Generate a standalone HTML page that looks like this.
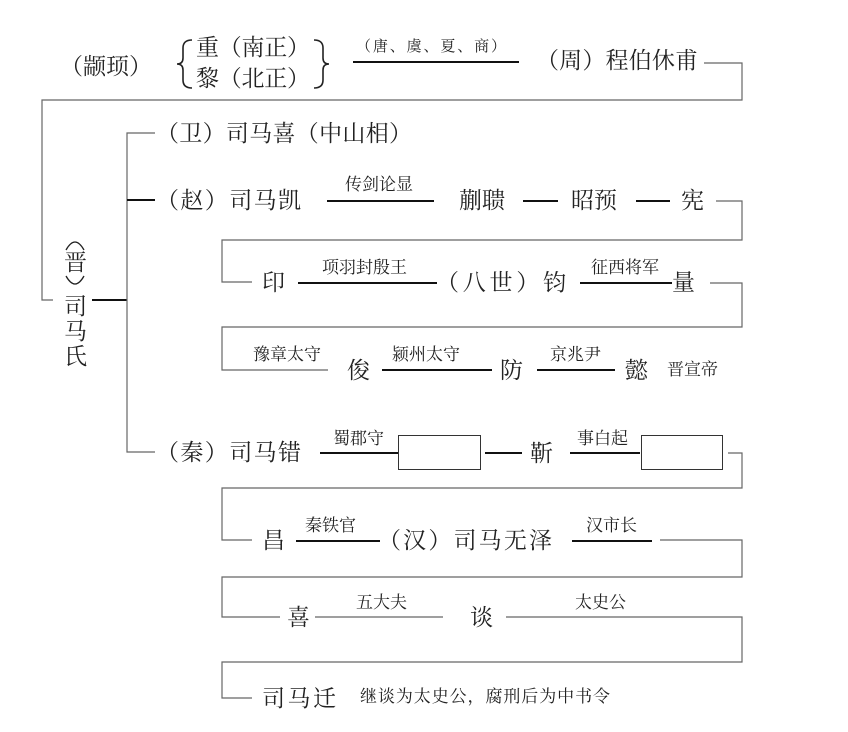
<!DOCTYPE html>
<html><head><meta charset="utf-8"><style>
html,body{margin:0;padding:0;background:#fff;}
svg{display:block;}
text{font-family:"Liberation Serif","Noto Serif CJK SC","Noto Sans CJK SC",serif;fill:#222;}
.m{font-size:23px;}
.s{font-size:17px;}
.g{stroke:#666;stroke-width:1.2;fill:none;}
.b{stroke:#111;stroke-width:2;fill:none;}
</style></head><body>
<svg width="848" height="732" viewBox="0 0 848 732" xmlns="http://www.w3.org/2000/svg">
<!-- top row -->
<text class="m" x="60" y="74">（颛顼）</text>
<path d="M192,40 Q183,40 183,48 L183,58 Q183,64 177,64 Q183,64 183,70 L183,80 Q183,88 192,88" stroke="#222" stroke-width="1.6" fill="none"/>
<text class="m" x="196" y="55" textLength="114" lengthAdjust="spacing">重（南正）</text>
<text class="m" x="196" y="86" textLength="114" lengthAdjust="spacing">黎（北正）</text>
<path d="M314,40 Q323,40 323,48 L323,58 Q323,64 329,64 Q323,64 323,70 L323,80 Q323,88 314,88" stroke="#222" stroke-width="1.6" fill="none"/>
<text class="s" x="356" y="51" font-size="15" style="font-size:15px" textLength="150" lengthAdjust="spacing">（唐、虞、夏、商）</text>
<line class="b" x1="353" y1="62" x2="519" y2="62"/>
<text class="m" x="536" y="68" textLength="162" lengthAdjust="spacing">（周）程伯休甫</text>
<path class="g" d="M704,63 H742 V100 H42 V300 H53"/>
<!-- 晋 司马氏 -->
<path d="M66,250 Q75,234 84,250" stroke="#222" stroke-width="1.3" fill="none"/>
<text class="m" x="64" y="270">晋</text>
<path d="M66,276 Q75,292 84,276" stroke="#222" stroke-width="1.3" fill="none"/>
<text class="m" x="64" y="314">司</text>
<text class="m" x="64" y="339">马</text>
<text class="m" x="64" y="364">氏</text>
<line class="b" x1="92" y1="300" x2="127" y2="300"/>
<path class="g" d="M155,133 H127 V452 H155"/>
<line class="b" x1="127" y1="200" x2="155" y2="200"/>
<!-- 卫 -->
<text class="m" x="156" y="141" textLength="256" lengthAdjust="spacing">（卫）司马喜（中山相）</text>
<!-- 赵 -->
<text class="m" x="156" y="208" textLength="145" lengthAdjust="spacing">（赵）司马凯</text>
<text class="s" x="345" y="190">传剑论显</text>
<line class="b" x1="327" y1="201" x2="434" y2="201"/>
<text class="m" x="459" y="208">蒯聩</text>
<line class="b" x1="523" y1="201" x2="558" y2="201"/>
<text class="m" x="571" y="208">昭预</text>
<line class="b" x1="636" y1="201" x2="670" y2="201"/>
<text class="m" x="681" y="208">宪</text>
<path class="g" d="M716,201 H742 V240 H222 V282 H252"/>
<text class="m" x="262" y="290">印</text>
<text class="s" x="322" y="273">项羽封殷王</text>
<line class="b" x1="298" y1="283" x2="437" y2="283"/>
<text class="m" x="436" y="290" textLength="130" lengthAdjust="spacing">（八世）钧</text>
<text class="s" x="591" y="273">征西将军</text>
<line class="b" x1="580" y1="283" x2="672" y2="283"/>
<text class="m" x="672" y="290">量</text>
<path class="g" d="M710,283 H742 V327 H222 V370 H328"/>
<text class="s" x="253" y="360">豫章太守</text>
<text class="m" x="347" y="378">俊</text>
<text class="s" x="392" y="360">颍州太守</text>
<line class="b" x1="382" y1="370" x2="492" y2="370"/>
<text class="m" x="500" y="378">防</text>
<text class="s" x="550" y="360">京兆尹</text>
<line class="b" x1="537" y1="370" x2="615" y2="370"/>
<text class="m" x="625" y="378">懿</text>
<text class="s" x="667" y="375">晋宣帝</text>
<!-- 秦 -->
<text class="m" x="156" y="460" textLength="145" lengthAdjust="spacing">（秦）司马错</text>
<text class="s" x="333" y="444">蜀郡守</text>
<line class="b" x1="320" y1="453" x2="398" y2="453"/>
<rect x="398.5" y="435.5" width="82" height="34" fill="none" stroke="#333" stroke-width="1"/>
<line class="b" x1="485" y1="453" x2="522" y2="453"/>
<text class="m" x="530" y="461">靳</text>
<text class="s" x="577" y="444">事白起</text>
<line class="b" x1="570" y1="453" x2="640" y2="453"/>
<rect x="641.5" y="435.5" width="81" height="34" fill="none" stroke="#333" stroke-width="1"/>
<path class="g" d="M728,453 H742 V488 H222 V540 H252"/>
<text class="m" x="262" y="548">昌</text>
<text class="s" x="305" y="531">秦铁官</text>
<line class="b" x1="296" y1="541" x2="380" y2="541"/>
<text class="m" x="378" y="548" textLength="174" lengthAdjust="spacing">（汉）司马无泽</text>
<text class="s" x="586" y="531">汉市长</text>
<line class="b" x1="572" y1="541" x2="652" y2="541"/>
<path class="g" d="M660,540 H742 V577 H222 V617 H280"/>
<text class="m" x="287" y="625">喜</text>
<text class="s" x="356" y="608">五大夫</text>
<line class="g" x1="315" y1="617" x2="443" y2="617"/>
<text class="m" x="470" y="625">谈</text>
<text class="s" x="575" y="608">太史公</text>
<path class="g" d="M506,617 H742 V662 H222 V698 H252"/>
<text class="m" x="262" y="706" textLength="74" lengthAdjust="spacing">司马迁</text>
<text class="s" x="360" y="702" textLength="250" lengthAdjust="spacing">继谈为太史公，腐刑后为中书令</text>
</svg>
</body></html>
